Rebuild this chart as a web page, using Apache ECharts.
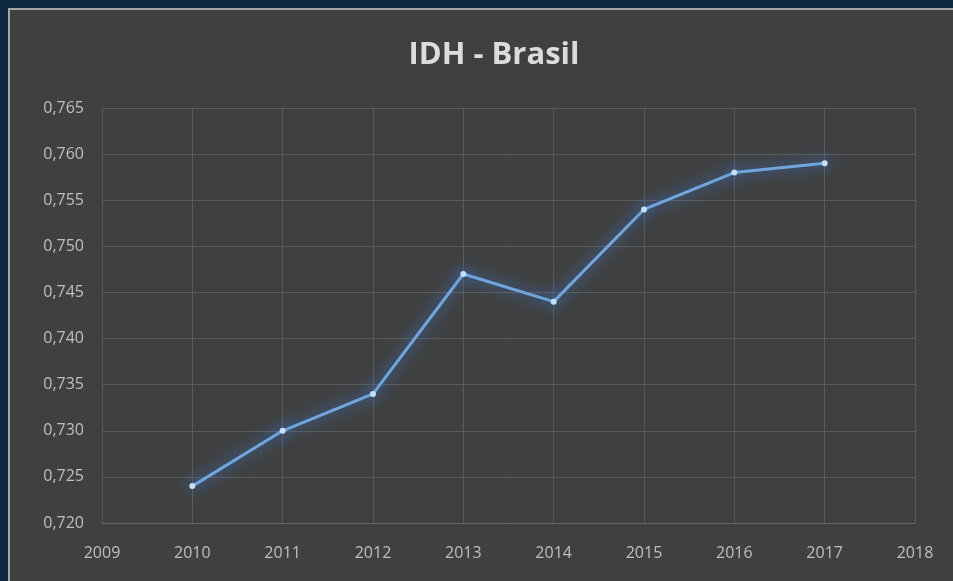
<!DOCTYPE html>
<html>
<head>
<meta charset="utf-8">
<script src="https://cdn.jsdelivr.net/npm/echarts@6/dist/echarts.min.js"></script>
<style>
html,body{margin:0;padding:0;width:953px;height:581px;background:#0f2a40;overflow:hidden;}
#panel{position:absolute;left:8px;top:8px;width:960px;height:600px;background:#404040;border-top:2px solid #a6a6a6;border-left:2px solid #a6a6a6;}
#chart{position:absolute;left:9px;top:10px;width:944px;height:571px;}
</style>
</head>
<body>
<div id="panel"></div>
<div id="chart"></div>
<script>
const titleText = 'IDH - Brasil';
const years = [2010, 2011, 2012, 2013, 2014, 2015, 2016, 2017];
const idh = [0.724, 0.730, 0.734, 0.747, 0.744, 0.754, 0.758, 0.759];
const xMin = 2009, xMax = 2018, xStep = 1;
const yMin = 0.720, yMax = 0.765, yStep = 0.005;

const chart = echarts.init(document.getElementById('chart'));
chart.setOption({
  backgroundColor: 'transparent',
  animation: false,
  title: {
    text: titleText,
    left: 480,
    textAlign: 'center',
    top: 25,
    textStyle: {color: '#dcdcdc', fontSize: 31, fontWeight: 'bold', fontFamily: 'Open Sans'}
  },
  grid: {left: 93, right: 38, top: 98, bottom: 58, containLabel: false},
  xAxis: {
    type: 'value', min: xMin, max: xMax, interval: xStep,
    axisLine: {show: true, lineStyle: {color: '#666666', width: 1}},
    axisTick: {show: false},
    splitLine: {show: true, lineStyle: {color: '#5a5a5a', width: 1}},
    axisLabel: {color: '#bfbfbf', fontSize: 16, margin: 22, fontFamily: 'Open Sans', formatter: v => String(Math.round(v))}
  },
  yAxis: {
    type: 'value', min: yMin, max: yMax, interval: yStep,
    axisLine: {show: false},
    axisTick: {show: false},
    splitLine: {show: true, lineStyle: {color: '#5a5a5a', width: 1}},
    axisLabel: {color: '#bfbfbf', fontSize: 16, margin: 18, fontFamily: 'Open Sans', formatter: v => v.toFixed(3).replace('.', ',')}
  },
  series: [{
    type: 'line',
    data: years.map((y, i) => [y, idh[i]]),
    symbol: 'circle',
    symbolSize: 6,
    lineStyle: {color: '#6fa6de', width: 3, shadowColor: 'rgba(60,140,255,1)', shadowBlur: 16},
    itemStyle: {color: '#c4e0fa', shadowColor: 'rgba(60,140,255,1)', shadowBlur: 16}
  }]
});
</script>
</body>
</html>
